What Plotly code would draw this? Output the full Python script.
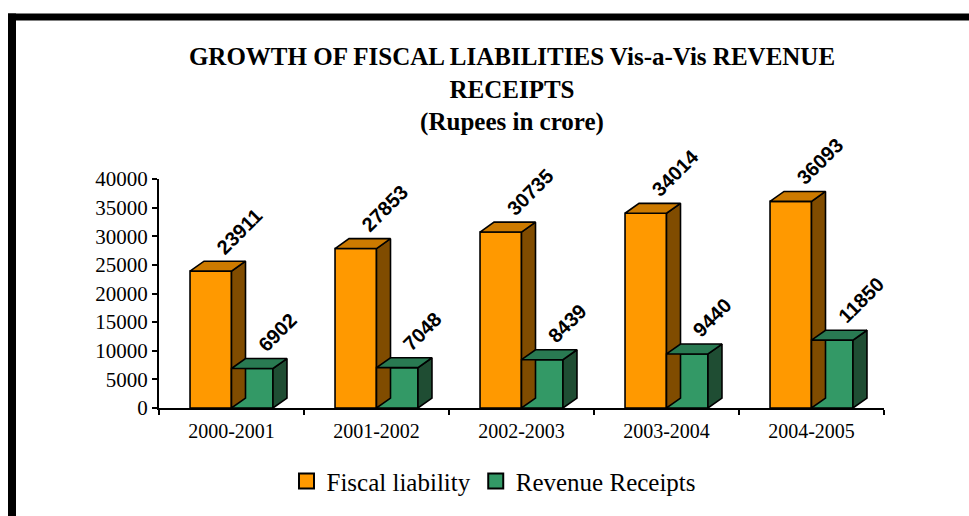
import plotly.graph_objects as go

# ---------------- data ----------------
categories = ["2000-2001", "2001-2002", "2002-2003", "2003-2004", "2004-2005"]
fiscal_liability = [23911, 27853, 30735, 34014, 36093]
revenue_receipts = [6902, 7048, 8439, 9440, 11850]
series_names = ["Fiscal liability", "Revenue Receipts"]
y_ticks = [0, 5000, 10000, 15000, 20000, 25000, 30000, 35000, 40000]

# ---------------- style ----------------
W, H = 969, 516
ML, MR, MT, MB = 159, 85, 179, 106
PW, PH = W - ML - MR, H - MT - MB
YMAX = 40000
BAR_W = 0.286                  # bar width in category units
DX = 14 / PW * 5               # 3-D depth (x) in data units
DY = 10 / PH * YMAX            # 3-D depth (y) in data units
SERIF = "Liberation Serif, Times New Roman, serif"
SANS = "Liberation Sans, Arial, sans-serif"

styles = [
    dict(front="#FF9900", top="#CC7A00", side="#804C00", offset=-BAR_W),
    dict(front="#339966", top="#297A52", side="#1F4D33", offset=0.0),
]
values_list = [fiscal_liability, revenue_receipts]
xs = list(range(len(categories)))

fig = go.Figure()

for name, vals, st in zip(series_names, values_list, styles):
    # front faces
    fig.add_trace(go.Bar(
        x=xs, y=vals, width=BAR_W, offset=st["offset"],
        marker=dict(color=st["front"], line=dict(color="black", width=1.6)),
        showlegend=False, hoverinfo="skip",
    ))
    # side and top faces
    sx, sy = [], []
    tx, ty = [], []
    for xi, v in zip(xs, vals):
        xl = xi + st["offset"]
        xr = xl + BAR_W
        sx += [xr, xr, xr + DX, xr + DX, xr, None]
        sy += [0, v, v + DY, DY, 0, None]
        tx += [xl, xl + DX, xr + DX, xr, xl, None]
        ty += [v, v + DY, v + DY, v, v, None]
    fig.add_trace(go.Scatter(
        x=sx, y=sy, mode="lines", fill="toself", fillcolor=st["side"],
        line=dict(color="black", width=1.6), showlegend=False, hoverinfo="skip",
    ))
    fig.add_trace(go.Scatter(
        x=tx, y=ty, mode="lines", fill="toself", fillcolor=st["top"],
        line=dict(color="black", width=1.6), showlegend=False, hoverinfo="skip",
    ))

# legend entries
for name, st in zip(series_names, styles):
    fig.add_trace(go.Scatter(
        x=[None], y=[None], mode="markers", name=name,
        marker=dict(symbol="square", size=15, color=st["front"],
                    line=dict(color="black", width=2)),
    ))

# data labels
for vals, st in zip(values_list, styles):
    for xi, v in zip(xs, vals):
        fig.add_annotation(
            x=xi + st["offset"] + BAR_W / 2, y=v, text=str(v),
            textangle=-45, showarrow=False, xanchor="left", yanchor="bottom",
            xshift=-1, yshift=10,
            font=dict(family=SANS, size=20, color="black", weight="bold"),
        )

# border (black frame at top and left)
def px_x(p):
    return (p - ML) / PW

def px_y(p):
    return (H - MB - p) / PH

fig.add_shape(type="rect", xref="paper", yref="paper",
              x0=px_x(8), x1=px_x(980), y0=px_y(12), y1=px_y(19),
              fillcolor="black", line=dict(width=0), layer="above")
fig.add_shape(type="rect", xref="paper", yref="paper",
              x0=px_x(8), x1=px_x(16), y0=px_y(12), y1=px_y(530),
              fillcolor="black", line=dict(width=0), layer="above")

fig.update_layout(
    width=W, height=H,
    margin=dict(l=ML, r=MR, t=MT, b=MB),
    paper_bgcolor="white", plot_bgcolor="white",
    barmode="overlay",
    title=dict(
        text="GROWTH OF FISCAL LIABILITIES Vis-a-Vis REVENUE<br>RECEIPTS<br>(Rupees in crore)",
        x=512 / W, xanchor="center", y=1 - 65 / H, yanchor="top",
        font=dict(family=SERIF, size=25, color="black", weight="bold"),
    ),
    showlegend=True,
    legend=dict(
        orientation="h", x=px_x(494), xanchor="center", y=px_y(484), yanchor="middle",
        font=dict(family=SERIF, size=25, color="black"),
        bgcolor="rgba(0,0,0,0)", itemclick=False,
    ),
    xaxis=dict(
        range=[-0.5, 4.5], tickmode="array", tickvals=xs, ticktext=categories,
        ticks="", showgrid=False, zeroline=False,
        showline=True, linecolor="black", linewidth=2,
        tickfont=dict(family=SERIF, size=20, color="black"),
        ticklabelstandoff=4,
        minor=dict(tickmode="array", tickvals=[i - 0.5 for i in range(len(categories) + 1)],
                   ticks="outside", ticklen=5, tickwidth=2, tickcolor="black"),
        fixedrange=True,
    ),
    yaxis=dict(
        range=[0, YMAX], tickmode="array", tickvals=y_ticks,
        ticktext=[str(t) for t in y_ticks],
        ticks="outside", ticklen=5, tickwidth=2, tickcolor="black",
        showgrid=False, zeroline=False,
        showline=True, linecolor="black", linewidth=2,
        tickfont=dict(family=SERIF, size=21, color="black"),
        fixedrange=True,
    ),
)

fig.write_html("out.html")
